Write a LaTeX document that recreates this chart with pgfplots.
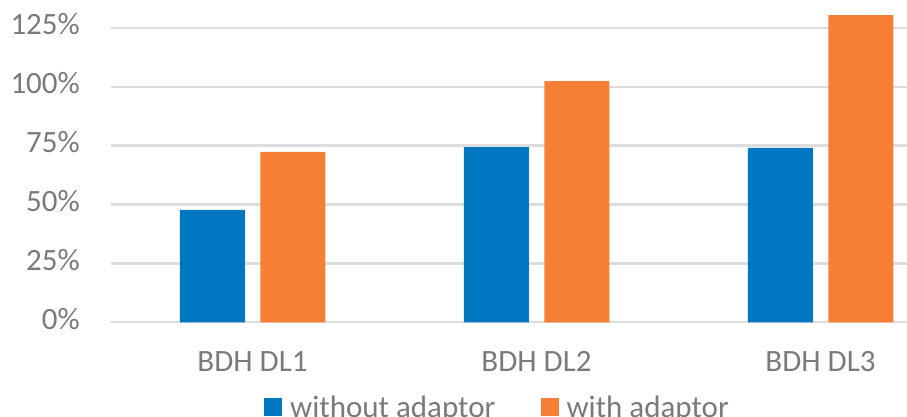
\documentclass[border=0pt]{standalone}
\usepackage{fontspec}
\setmainfont{Carlito}
\usepackage{pgfplots}
\pgfplotsset{compat=1.18}
\definecolor{cblue}{HTML}{0077C0}
\definecolor{corange}{HTML}{F77F33}
\definecolor{cgrid}{HTML}{DDDDDD}
\definecolor{ctext}{HTML}{7A7A7A}
\newcommand{\lbl}{\fontsize{31}{37}\selectfont\color{ctext}}
\begin{document}
\begin{tikzpicture}
\begin{axis}[
  at={(110.5pt,93.7pt)}, anchor=south west,
  scale only axis, width=796.5pt, height=322.3pt,
  xmin=-0.5, xmax=2.3046, ymin=0, ymax=136.8,
  axis line style={draw=none},
  tick style={draw=none},
  major tick length=0pt,
  ymajorgrids, grid style={cgrid, line width=2.3pt},
  ytick={0,25,50,75,100,125},
  yticklabels={0\%,25\%,50\%,75\%,100\%,125\%},
  yticklabel style={anchor=east, inner sep=0pt, xshift=-30.5pt, yshift=3.5pt, font=\lbl},
  xtick={0,1,2},
  xticklabels={BDH DL1,BDH DL2,BDH DL3},
  xticklabel style={anchor=base, inner sep=0pt, yshift=-48.7pt, font=\lbl},
  legend style={at={(0.1927,-0.300)}, anchor=south west, draw=none, fill=none,
    inner sep=0pt, font=\lbl, nodes={inner sep=0pt},
    /tikz/every odd column/.style={column sep=8pt},
    /tikz/every even column/.style={column sep=45pt}},
  legend columns=2,
  legend image code/.code={\fill[#1] (0pt,-8.7pt) rectangle (18pt,9.3pt);},
]
\addplot[ybar, bar width=65pt, bar shift=-40.25pt, fill=cblue, draw=none]
  coordinates {(0,47.7) (1,74.4) (2,74.0)};
\addlegendentry{without adaptor}
\addplot[ybar, bar width=65pt, bar shift=40.25pt, fill=corange, draw=none]
  coordinates {(0,72.3) (1,102.4) (2,130.4)};
\addlegendentry{with adaptor}
\end{axis}
\pgfresetboundingbox
\path[use as bounding box] (0,0) rectangle (907pt,416pt);
\end{tikzpicture}
\end{document}
